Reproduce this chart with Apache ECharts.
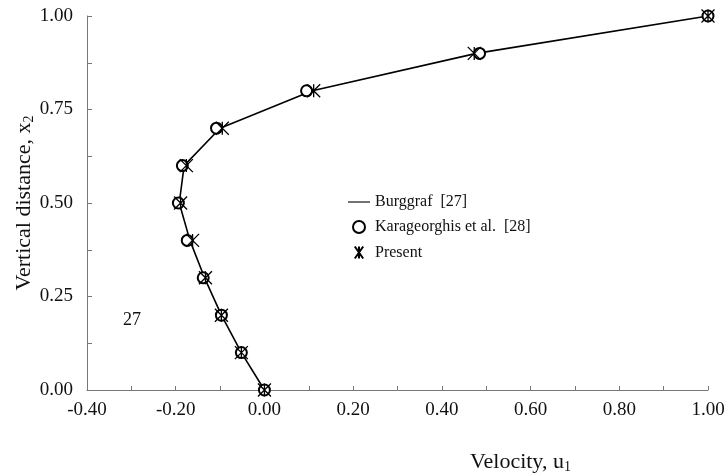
<!DOCTYPE html>
<html>
<head>
<meta charset="utf-8">
<script src="https://cdn.jsdelivr.net/npm/echarts@6/dist/echarts.min.js"></script>
<style>
  html, body { margin: 0; padding: 0; background: #fff; }
  #chart { width: 725px; height: 473px; }
</style>
</head>
<body>
<div id="chart"></div>
<script>
// vertical positions x2
const heights = [0, 0.1, 0.2, 0.3, 0.4, 0.5, 0.6, 0.7, 0.8, 0.9, 1.0]
// Burggraf [27] (solid line)
const burggrafU = [0, -0.052, -0.097, -0.135, -0.168, -0.192, -0.181, -0.100, 0.108, 0.478, 1.0]
// Karageorghis et al. [28] (circles)
const karaU = [0, -0.052, -0.097, -0.138, -0.174, -0.194, -0.185, -0.108, 0.095, 0.485, 1.0]
// Present (stars)
const presentU = [0, -0.052, -0.097, -0.133, -0.162, -0.189, -0.176, -0.095, 0.111, 0.473, 1.0]

const font = "'Liberation Serif', 'Times New Roman', serif"
const star = 'path://M0,-10L0,10M-7,-10L7,10M-7,10L7,-10'

const pairs = u => u.map((v, i) => [v, heights[i]])

const chart = echarts.init(document.getElementById('chart'))
chart.setOption({
  animation: false,
  backgroundColor: '#fff',
  grid: { left: 87, right: 17, top: 16, bottom: 83, outerBoundsMode: 'none', containLabel: false },
  xAxis: {
    type: 'value', min: -0.4, max: 1.0, interval: 0.2,
    name: 'Velocity, u{s|1}',
    nameLocation: 'middle', nameGap: 61, nameMoveOverlap: false,
    nameTextStyle: {
      fontFamily: font, fontSize: 22, color: '#111', padding: [0, 0, 0, 246],
      rich: { s: { fontFamily: font, fontSize: 14, verticalAlign: 'bottom', padding: [9, 0, 0, 0] } }
    },
    axisLine: { onZero: false, lineStyle: { color: '#777', width: 1 } },
    axisTick: { inside: true, length: 4, lineStyle: { color: '#777' } },
    minorTick: { show: true, splitNumber: 2, length: 4, lineStyle: { color: '#777' } },
    splitLine: { show: false },
    axisLabel: { fontFamily: font, fontSize: 19, color: '#111', margin: 11, formatter: v => v.toFixed(2) }
  },
  yAxis: {
    type: 'value', min: 0, max: 1.0, interval: 0.25,
    name: 'Vertical distance, x{s|2}',
    nameLocation: 'middle', nameGap: 51, nameMoveOverlap: false,
    nameTextStyle: {
      fontFamily: font, fontSize: 22, color: '#111',
      rich: { s: { fontFamily: font, fontSize: 14, verticalAlign: 'bottom', padding: [9, 0, 0, 0] } }
    },
    axisLine: { show: true, onZero: false, lineStyle: { color: '#777', width: 1 } },
    axisTick: { show: true, inside: true, length: 5, lineStyle: { color: '#777' } },
    minorTick: { show: true, splitNumber: 2, length: 5, lineStyle: { color: '#777' } },
    splitLine: { show: false },
    axisLabel: { fontFamily: font, fontSize: 19, color: '#111', margin: 14, formatter: v => v.toFixed(2) }
  },
  legend: {
    orient: 'vertical', left: 343, top: 189,
    itemWidth: 22, itemHeight: 12, itemGap: 9,
    textStyle: { fontFamily: font, fontSize: 16, color: '#111' },
    data: [
      { name: 'Burggraf  [27]', icon: 'path://M0,0H40V2H0Z' },
      { name: 'Karageorghis et al.  [28]' },
      { name: 'Present' }
    ]
  },
  graphic: [
    { type: 'text', left: 123, top: 311, style: { text: '27', font: '18px ' + font, fill: '#111' } }
  ],
  series: [
    {
      name: 'Burggraf  [27]', type: 'line', data: pairs(burggrafU),
      symbol: 'none', lineStyle: { color: '#000', width: 1.6 }, itemStyle: { color: '#000' }, z: 2
    },
    {
      name: 'Karageorghis et al.  [28]', type: 'scatter', data: pairs(karaU),
      symbol: 'emptyCircle', symbolSize: 11,
      itemStyle: { color: '#000', borderWidth: 1.3, opacity: 1 }, z: 3
    },
    {
      name: 'Present', type: 'scatter', data: pairs(presentU),
      symbol: star, symbolSize: 13,
      itemStyle: { color: 'none', borderColor: '#000', borderWidth: 1.3, opacity: 1 }, z: 4
    }
  ]
})
</script>
</body>
</html>
